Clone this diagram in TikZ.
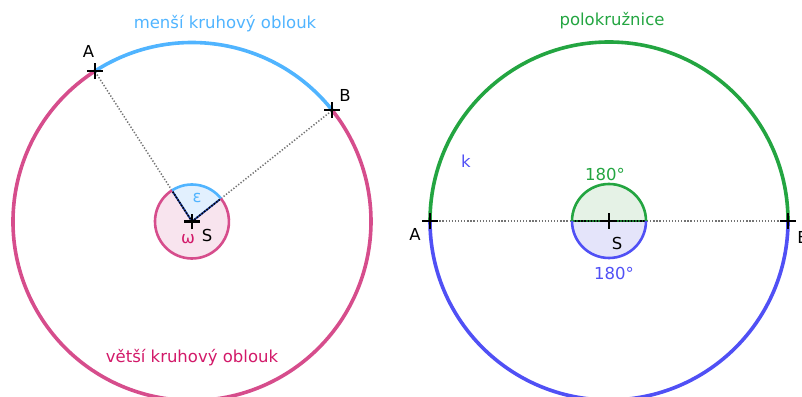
\documentclass[tikz,border=0pt]{standalone}
\usepackage{fontspec}
\setmainfont{DejaVu Sans}
\usepackage{tikz}
\usetikzlibrary{shapes.misc,calc}

\definecolor{arcblue}{RGB}{80,180,255}
\definecolor{arcpink}{RGB}{214,77,140}
\definecolor{txtpink}{RGB}{210,25,105}
\definecolor{arcgreen}{RGB}{35,165,65}
\definecolor{arcviolet}{RGB}{80,80,245}
\definecolor{sectline}{RGB}{30,60,150}
\definecolor{fillblue}{RGB}{226,240,254}
\definecolor{fillpink}{RGB}{248,228,238}
\definecolor{fillgreen}{RGB}{229,242,230}
\definecolor{fillviolet}{RGB}{228,228,250}

\begin{document}
\begin{tikzpicture}[
    x = 1pt, y = 1pt,
    pt/.style = {cross out, draw=black, line width=2.2pt, minimum size=9pt, inner sep=0pt, rotate=45},
    lbl/.style = {font=\fontsize{16.5}{19}\selectfont, anchor=base, inner sep=0pt},
    guide/.style = {line width=1.5pt, black!55, dash pattern=on 1.3pt off 1.8pt},
    bigarc/.style = {line width=3.6pt},
    smallarc/.style = {line width=2.6pt}
]
\useasboundingbox (0,0) rectangle (802,396);

% Left picture
\coordinate (s1) at (192,174.5);

% angle fills
\fill [fillpink] (s1) circle [radius=37];
\fill [fillblue] (s1) -- ($(s1)+(38.4:37)$) arc [start angle=38.4, end angle=122.9, radius=37] -- cycle;

% guides
\node [pt, draw=none] (a1) at ($(s1)+(122.9:179)$) {};
\node [pt, draw=none] (b1) at ($(s1)+(38.4:179)$) {};
\draw [guide] (s1) -- (a1.center);
\draw [guide] (s1) -- (b1.center);
\draw [sectline, line width=1.8pt] (s1) -- ($(s1)+(122.9:37)$);
\draw [sectline, line width=1.8pt] (s1) -- ($(s1)+(38.4:37)$);
\draw [guide, black] (s1) -- ($(s1)+(122.9:37)$);
\draw [guide, black] (s1) -- ($(s1)+(38.4:37)$);

% arcs
\draw [bigarc, arcblue] (b1.center) arc [start angle=38.4, end angle=122.9, radius=179];
\draw [bigarc, arcpink] (a1.center) arc [start angle=122.9, end angle=398.4, radius=179];
\draw [smallarc, arcblue] ($(s1)+(38.4:37)$) arc [start angle=38.4, end angle=122.9, radius=37];
\draw [smallarc, arcpink] ($(s1)+(122.9:37)$) arc [start angle=122.9, end angle=398.4, radius=37];

% points
\node [pt] (a1p) at (a1) {};
\node [pt] (b1p) at (b1) {};
\node [pt] (s1p) at (s1) {};

% labels
\node [lbl, arcblue] (minor) at (225,367) {menší kruhový oblouk};
\node [lbl, txtpink] (major) at (192,34) {větší kruhový oblouk};
\node [lbl] (la1) at (88.5,338) {A};
\node [lbl] (lb1) at (345,294) {B};
\node [lbl] (ls1) at (207,154.5) {S};
\node [lbl, arcblue] (eps) at (197,193) {ε};
\node [lbl, txtpink] (omega) at (188,152) {ω};

% Right picture
\coordinate (s2) at (609,175);
\node [pt, draw=none] (a2) at ($(s2)+(180:179)$) {};
\node [pt, draw=none] (b2) at ($(s2)+(0:179)$) {};

% angle fills
\fill [fillgreen] ($(s2)+(0:37)$) arc [start angle=0, end angle=180, radius=37] -- cycle;
\fill [fillviolet] ($(s2)+(180:37)$) arc [start angle=180, end angle=360, radius=37] -- cycle;

% guides
\draw [guide] (a2.center) -- (b2.center);
\draw [arcgreen!70!black, line width=1.8pt] ($(s2)+(180:37)$) -- ($(s2)+(0:37)$);
\draw [guide, black] ($(s2)+(180:37)$) -- ($(s2)+(0:37)$);

% arcs
\draw [bigarc, arcgreen] (b2.center) arc [start angle=0, end angle=180, radius=179];
\draw [bigarc, arcviolet] (a2.center) arc [start angle=180, end angle=360, radius=179];
\draw [smallarc, arcgreen] ($(s2)+(0:37)$) arc [start angle=0, end angle=180, radius=37];
\draw [smallarc, arcviolet] ($(s2)+(180:37)$) arc [start angle=180, end angle=360, radius=37];

% points
\node [pt] (a2p) at (a2) {};
\node [pt] (b2p) at (b2) {};
\node [pt] (s2p) at (s2) {};

% labels
\node [lbl, arcgreen] (semi) at (612,370) {polokružnice};
\node [lbl, arcviolet] (k) at (466,228.7) {k};
\node [lbl] (la2) at (415,155.3) {A};
\node [lbl] (lb2) at (803,152.7) {B};
\node [lbl] (ls2) at (617,146) {S};
\node [lbl, arcgreen] (top) at (605,215.3) {180°};
\node [lbl, arcviolet] (bot) at (614,116) {180°};

\end{tikzpicture}
\end{document}
